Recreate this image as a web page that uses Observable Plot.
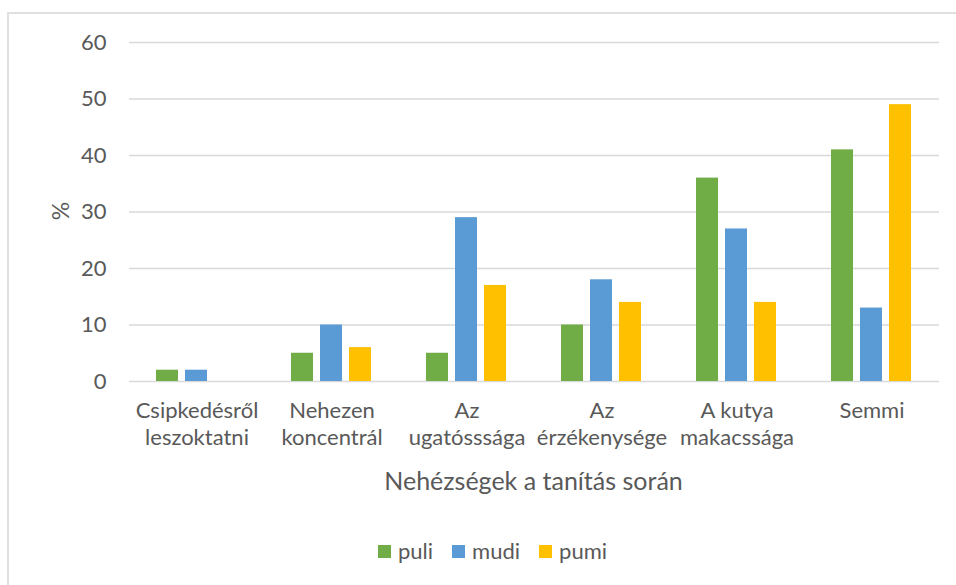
<!DOCTYPE html>
<html>
<head>
<meta charset="utf-8">
<script src="https://cdn.jsdelivr.net/npm/d3@7"></script>
<script src="https://cdn.jsdelivr.net/npm/@observablehq/plot@0.6"></script>
<style>
  html, body { margin: 0; padding: 0; background: #fff; overflow: hidden; }
  #wrap { position: relative; width: 956px; height: 585px; font-family: Lato, "Noto Sans", sans-serif; color: #595959; }
  #frame { position: absolute; left: 7px; top: 12px; width: 1000px; height: 1000px; border: 2px solid #e0e0e0; box-sizing: border-box; }
  #chart { position: absolute; left: 0; top: 0; }
  #xtitle { position: absolute; left: 0; width: 1067px; top: 468px; line-height: 1; text-align: center; font-size: 25px; white-space: nowrap; }
  #ytitle { position: absolute; left: 60px; top: 211px; width: 0; height: 0; }
  #ytitle span { position: absolute; left: 0; top: 0; transform: translate(-50%, -50%) rotate(-90deg); font-size: 23px; line-height: 1; white-space: nowrap; }
  #legend { position: absolute; left: 378px; top: 539px; line-height: 24px; display: flex; align-items: center; font-size: 22px; white-space: nowrap; }
  .item { display: flex; align-items: center; margin-right: 19px; }
  .sw { width: 13px; height: 13px; margin-right: 7px; }
</style>
</head>
<body>
<div id="wrap">
  <div id="frame"></div>
  <div id="chart"></div>
  <div id="ytitle"><span>%</span></div>
  <div id="xtitle">Nehézségek a tanítás során</div>
  <div id="legend"></div>
</div>
<script>
const categories = ["Csipkedésről leszoktatni", "Nehezen koncentrál", "Az ugatósssága", "Az érzékenysége", "A kutya makacssága", "Semmi"];
const categoryLabels = ["Csipkedésről\nleszoktatni", "Nehezen\nkoncentrál", "Az\nugatósssága", "Az\nérzékenysége", "A kutya\nmakacssága", "Semmi"];
const series = ["puli", "mudi", "pumi"];
const colors = ["#70AD47", "#5B9BD5", "#FFC000"];
const puli = [2, 5, 5, 10, 36, 41];
const mudi = [2, 10, 29, 18, 27, 13];
const pumi = [0, 6, 17, 14, 14, 49];
const yTicks = [0, 10, 20, 30, 40, 50, 60];

const valuesBySeries = {puli, mudi, pumi};
const table = [];
categories.forEach((c, i) => {
  series.forEach(s => table.push({category: c, series: s, value: valuesBySeries[s][i]}));
});
const labelOf = new Map(categories.map((c, i) => [c, categoryLabels[i]]));

const chart = Plot.plot({
  width: 956,
  height: 520,
  marginLeft: 128,
  marginRight: 17,
  marginTop: 42,
  marginBottom: 139,
  style: {fontFamily: "Lato, 'Noto Sans', sans-serif", color: "#595959", background: "transparent"},
  fx: {domain: categories, padding: 0, axis: null},
  x: {domain: series, paddingInner: 0.233, paddingOuter: 0.87, axis: null},
  y: {domain: [0, 60], axis: null},
  color: {domain: series, range: colors},
  marks: [
    Plot.ruleY(yTicks, {stroke: "#d9d9d9", strokeWidth: 1.4}),
    Plot.barY(table, {fx: "category", x: "series", y: "value", fill: "series"}),
    Plot.axisY({ticks: yTicks, tickSize: 0, tickPadding: 23, fontSize: 22, fill: "#595959", label: null}),
    Plot.text(categories, {fx: d => d, text: d => labelOf.get(d), frameAnchor: "bottom", dy: 17, lineAnchor: "top", lineHeight: 1.23, fontSize: 22, fill: "#595959"})
  ]
});
document.getElementById("chart").appendChild(chart);

const legend = document.getElementById("legend");
series.forEach((s, i) => {
  const item = document.createElement("div");
  item.className = "item";
  const sw = document.createElement("div");
  sw.className = "sw";
  sw.style.background = colors[i];
  const t = document.createElement("span");
  t.textContent = s;
  item.appendChild(sw);
  item.appendChild(t);
  legend.appendChild(item);
});
</script>
</body>
</html>
